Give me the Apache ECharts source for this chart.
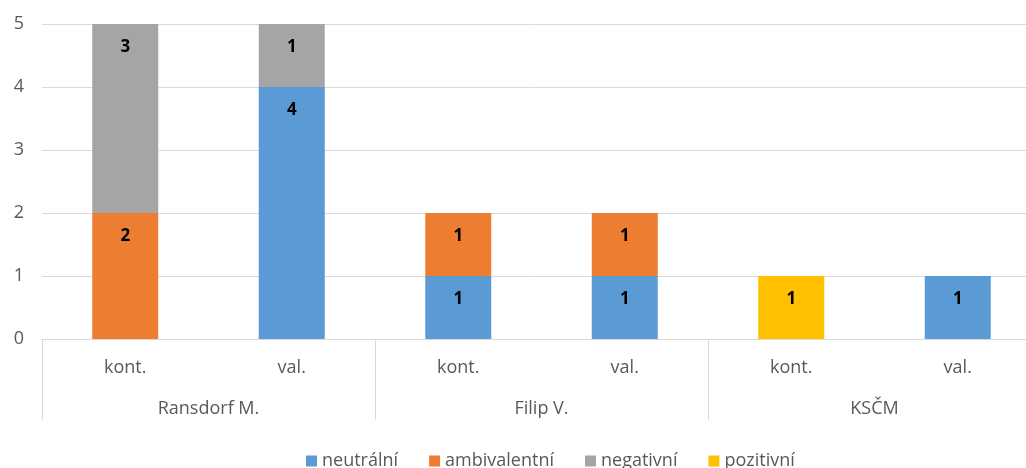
<!DOCTYPE html>
<html>
<head>
<meta charset="utf-8">
<script src="https://cdn.jsdelivr.net/npm/echarts@6/dist/echarts.min.js"></script>
<style>html,body{margin:0;padding:0;background:#fff;}#c{width:1026px;height:468px;}</style>
</head>
<body>
<div id="c"></div>
<script>
const categories = ['kont.', 'val.', 'kont.', 'val.', 'kont.', 'val.'];
const groups = ['Ransdorf M.', 'Filip V.', 'KSČM'];
const yTicks = [0, 1, 2, 3, 4, 5];
const neutralni = [0, 4, 1, 1, 0, 1];
const ambivalentni = [2, 0, 1, 1, 0, 0];
const negativni = [3, 1, 0, 0, 0, 0];
const pozitivni = [0, 0, 0, 0, 1, 0];

const seriesDefs = [
  { name: 'neutrální', data: neutralni, color: '#5B9BD5' },
  { name: 'ambivalentní', data: ambivalentni, color: '#ED7D31' },
  { name: 'negativní', data: negativni, color: '#A5A5A5' },
  { name: 'pozitivní', data: pozitivni, color: '#FFC000' }
];

const font = '"Open Sans", "Noto Sans", sans-serif';
const chart = echarts.init(document.getElementById('c'));
chart.setOption({
  animation: false,
  textStyle: { fontFamily: font },
  grid: { left: 42, right: -15, top: 24, bottom: 129, containLabel: false, outerBoundsMode: 'none' },
  legend: {
    top: 447,
    left: 301,
    itemWidth: 11,
    itemHeight: 11,
    itemGap: 31,
    icon: 'rect',
    textStyle: { color: '#595959', fontSize: 18, fontFamily: font },
    data: seriesDefs.map(s => s.name)
  },
  xAxis: [
    {
      type: 'category',
      data: categories,
      position: 'bottom',
      axisLine: { show: true, lineStyle: { color: '#D9D9D9', width: 1 } },
      axisTick: { show: false },
      axisLabel: { color: '#595959', fontSize: 18, margin: 20, fontFamily: font, interval: 0 }
    },
    {
      type: 'category',
      data: groups,
      position: 'bottom',
      offset: 81,
      axisLine: { show: false },
      axisTick: { show: true, inside: true, length: 81, lineStyle: { color: '#D9D9D9', width: 1 } },
      axisLabel: { inside: true, color: '#595959', fontSize: 18, margin: 2, fontFamily: font, interval: 0 },
      splitLine: { show: false }
    }
  ],
  yAxis: {
    type: 'value',
    min: yTicks[0],
    max: yTicks[yTicks.length - 1],
    interval: 1,
    axisLine: { show: false },
    axisTick: { show: false },
    axisLabel: { color: '#595959', fontSize: 18, margin: 18, fontFamily: font },
    splitLine: { lineStyle: { color: '#D9D9D9', width: 1 } }
  },
  series: seriesDefs.map(s => ({
    name: s.name,
    type: 'bar',
    stack: 'total',
    xAxisIndex: 0,
    barWidth: 66,
    data: s.data,
    itemStyle: { color: s.color },
    label: {
      show: true,
      position: 'insideTop',
      distance: 15,
      color: '#000',
      fontWeight: 'bold',
      fontSize: 17,
      fontFamily: font,
      formatter: p => (p.value ? String(p.value) : '')
    }
  }))
});
</script>
</body>
</html>
